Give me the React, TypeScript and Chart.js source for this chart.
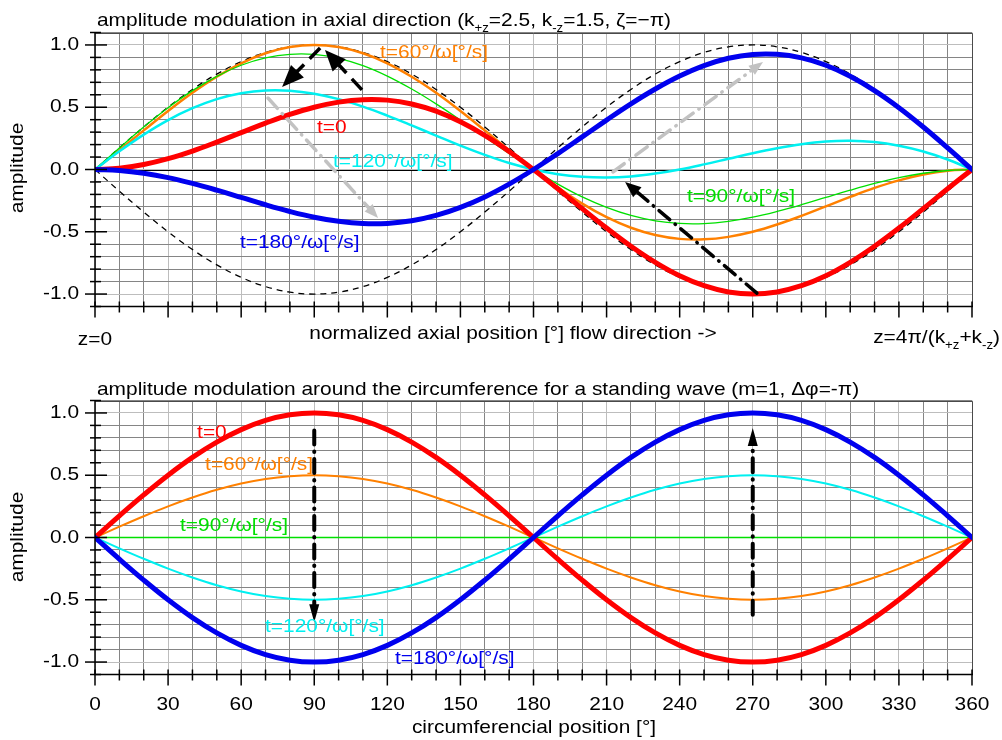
import React, { useEffect, useRef } from "react";
import { Chart, registerables } from "chart.js";

Chart.register(...registerables);

const FONT_FAMILY = '"Liberation Sans", Arial, Helvetica, sans-serif';
const TEXT_STRETCH = 1.1;
const FONT_SIZE = 19;
const SUB_SIZE = 12;

// abscissa samples in degrees
const positions = [
  0, 10, 20, 30, 40, 50, 60, 70, 80, 90, 100, 110, 120, 130, 140, 150, 160, 170, 180,
  190, 200, 210, 220, 230, 240, 250, 260, 270, 280, 290, 300, 310, 320, 330, 340, 350, 360,
];

// ---- axial modulation (upper panel) ----
const axialEnvelopeUpper = [
  0, 0.174, 0.342, 0.5, 0.643, 0.766, 0.866, 0.94, 0.985, 1, 0.985, 0.94, 0.866, 0.766, 0.643, 0.5, 0.342, 0.174, 0,
  -0.174, -0.342, -0.5, -0.643, -0.766, -0.866, -0.94, -0.985, -1, -0.985, -0.94, -0.866, -0.766, -0.643, -0.5, -0.342, -0.174, 0,
];
const axialEnvelopeLower = [
  0, -0.174, -0.342, -0.5, -0.643, -0.766, -0.866, -0.94, -0.985, -1, -0.985, -0.94, -0.866, -0.766, -0.643, -0.5, -0.342, -0.174, 0,
  0.174, 0.342, 0.5, 0.643, 0.766, 0.866, 0.94, 0.985, 1, 0.985, 0.94, 0.866, 0.766, 0.643, 0.5, 0.342, 0.174, 0,
];
const axialT0 = [
  0, 0.01, 0.04, 0.087, 0.148, 0.22, 0.296, 0.372, 0.442, 0.5, 0.541, 0.561, 0.557, 0.526, 0.468, 0.383, 0.274, 0.145, 0,
  -0.155, -0.314, -0.47, -0.616, -0.745, -0.853, -0.933, -0.983, -1, -0.983, -0.933, -0.853, -0.745, -0.616, -0.47, -0.314, -0.155, 0,
];
const axialT60 = [
  0, 0.155, 0.314, 0.47, 0.616, 0.745, 0.853, 0.933, 0.983, 1, 0.983, 0.933, 0.853, 0.745, 0.616, 0.47, 0.314, 0.155, 0,
  -0.145, -0.274, -0.383, -0.468, -0.526, -0.557, -0.561, -0.541, -0.5, -0.442, -0.372, -0.296, -0.22, -0.148, -0.087, -0.04, -0.01, 0,
];
const axialT90 = [
  0, 0.173, 0.341, 0.496, 0.633, 0.748, 0.837, 0.896, 0.925, 0.924, 0.893, 0.834, 0.75, 0.646, 0.527, 0.397, 0.262, 0.128, 0,
  -0.117, -0.22, -0.304, -0.369, -0.412, -0.433, -0.434, -0.416, -0.383, -0.337, -0.283, -0.224, -0.166, -0.112, -0.065, -0.03, -0.008, 0,
];
const axialT120 = [
  0, 0.146, 0.28, 0.397, 0.492, 0.565, 0.612, 0.635, 0.633, 0.609, 0.565, 0.505, 0.433, 0.354, 0.272, 0.191, 0.117, 0.052, 0,
  -0.038, -0.059, -0.065, -0.056, -0.033, 0, 0.041, 0.086, 0.131, 0.171, 0.203, 0.224, 0.23, 0.22, 0.191, 0.145, 0.08, 0,
];
const axialT180 = [
  0, -0.008, -0.03, -0.065, -0.112, -0.166, -0.224, -0.283, -0.337, -0.383, -0.416, -0.434, -0.433, -0.412, -0.369, -0.304, -0.22, -0.117, 0,
  0.128, 0.262, 0.397, 0.527, 0.646, 0.75, 0.834, 0.893, 0.924, 0.925, 0.896, 0.837, 0.748, 0.633, 0.496, 0.341, 0.173, 0,
];

// ---- circumferential standing wave (lower panel) ----
const circT0 = [
  0, 0.174, 0.342, 0.5, 0.643, 0.766, 0.866, 0.94, 0.985, 1, 0.985, 0.94, 0.866, 0.766, 0.643, 0.5, 0.342, 0.174, 0,
  -0.174, -0.342, -0.5, -0.643, -0.766, -0.866, -0.94, -0.985, -1, -0.985, -0.94, -0.866, -0.766, -0.643, -0.5, -0.342, -0.174, 0,
];
const circT60 = [
  0, 0.087, 0.171, 0.25, 0.321, 0.383, 0.433, 0.47, 0.492, 0.5, 0.492, 0.47, 0.433, 0.383, 0.321, 0.25, 0.171, 0.087, 0,
  -0.087, -0.171, -0.25, -0.321, -0.383, -0.433, -0.47, -0.492, -0.5, -0.492, -0.47, -0.433, -0.383, -0.321, -0.25, -0.171, -0.087, 0,
];
const circT90 = [
  0, 0, 0, 0, 0, 0, 0, 0, 0, 0, 0, 0, 0, 0, 0, 0, 0, 0, 0,
  0, 0, 0, 0, 0, 0, 0, 0, 0, 0, 0, 0, 0, 0, 0, 0, 0, 0,
];
const circT120 = [
  0, -0.087, -0.171, -0.25, -0.321, -0.383, -0.433, -0.47, -0.492, -0.5, -0.492, -0.47, -0.433, -0.383, -0.321, -0.25, -0.171, -0.087, 0,
  0.087, 0.171, 0.25, 0.321, 0.383, 0.433, 0.47, 0.492, 0.5, 0.492, 0.47, 0.433, 0.383, 0.321, 0.25, 0.171, 0.087, 0,
];
const circT180 = [
  0, -0.174, -0.342, -0.5, -0.643, -0.766, -0.866, -0.94, -0.985, -1, -0.985, -0.94, -0.866, -0.766, -0.643, -0.5, -0.342, -0.174, 0,
  0.174, 0.342, 0.5, 0.643, 0.766, 0.866, 0.94, 0.985, 1, 0.985, 0.94, 0.866, 0.766, 0.643, 0.5, 0.342, 0.174, 0,
];

// tick labels
const yTickValues = [-1, -0.5, 0, 0.5, 1];
const yTickLabels = ["-1.0", "-0.5", "0.0", "0.5", "1.0"];
const circTickValues = [0, 30, 60, 90, 120, 150, 180, 210, 240, 270, 300, 330, 360];
const circTickLabels = ["0", "30", "60", "90", "120", "150", "180", "210", "240", "270", "300", "330", "360"];

const RED = "#ff0000";
const BLUE = "#0000ee";
const ORANGE = "#ff8000";
const CYAN = "#00f0f0";
const GREEN = "#00e000";
const ARROW_GREY = "#c2c2c2";

type Seg = { text: string; sub?: boolean };
type Series = { values: number[]; color: string; width: number; dash?: number[]; order: number };
type Arrow = {
  from: [number, number];
  to: [number, number];
  color: string;
  width: number;
  dash: number[];
  cap: CanvasLineCap;
  headLen: number;
  headHalf: number;
};
type Note = { text: string; at: [number, number]; color: string };
type AxisText = { segs: Seg[]; x: number; baseline: number; align: "left" | "center" | "right" };

interface Panel {
  canvasTop: number;
  canvasHeight: number;
  plotTop: number;
  plotBottom: number;
  zeroLine: boolean;
  series: Series[];
  title: Seg[];
  titleBaseline: number;
  yLabelCenter: number;
  axisTexts: AxisText[];
  xTickValues: number[];
  xTickLabels: string[];
  xTickBaseline: number;
  arrows: Arrow[];
  notes: Note[];
}

const DASH_DOT = [14, 7, 0.5, 7];

const axialPanel: Panel = {
  canvasTop: 0,
  canvasHeight: 370,
  plotTop: 32.5,
  plotBottom: 306.5,
  zeroLine: true,
  series: [
    { values: axialT180, color: BLUE, width: 5, order: 1 },
    { values: axialT0, color: RED, width: 5, order: 2 },
    { values: axialT120, color: CYAN, width: 2.5, order: 3 },
    { values: axialT90, color: GREEN, width: 1.3, order: 4 },
    { values: axialT60, color: ORANGE, width: 2.5, order: 5 },
    { values: axialEnvelopeUpper, color: "#000000", width: 1.3, dash: [6, 5], order: 6 },
    { values: axialEnvelopeLower, color: "#000000", width: 1.3, dash: [6, 5], order: 7 },
  ],
  title: [
    { text: "amplitude modulation in axial direction (k" },
    { text: "+z", sub: true },
    { text: "=2.5, k" },
    { text: "-z", sub: true },
    { text: "=1.5, ζ=−π)" },
  ],
  titleBaseline: 26,
  yLabelCenter: 168,
  axisTexts: [
    { segs: [{ text: "z=0" }], x: 95, baseline: 345, align: "center" },
    { segs: [{ text: "normalized axial position [°] flow direction ->" }], x: 513, baseline: 339, align: "center" },
    {
      segs: [
        { text: "z=4π/(k" },
        { text: "+z", sub: true },
        { text: "+k" },
        { text: "-z", sub: true },
        { text: ")" },
      ],
      x: 1000,
      baseline: 343,
      align: "right",
    },
  ],
  xTickValues: [],
  xTickLabels: [],
  xTickBaseline: 0,
  arrows: [
    { from: [92.4, 0.976], to: [76.8, 0.663], color: "#000000", width: 3.5, dash: [15, 8], cap: "butt", headLen: 22, headHalf: 9 },
    { from: [109.6, 0.639], to: [94.4, 0.96], color: "#000000", width: 3.5, dash: [15, 8], cap: "butt", headLen: 21, headHalf: 9 },
    { from: [71, 0.574], to: [116.2, -0.39], color: ARROW_GREY, width: 3.5, dash: DASH_DOT, cap: "round", headLen: 14, headHalf: 5.5 },
    { from: [212.6, -0.02], to: [274.2, 0.863], color: ARROW_GREY, width: 3.5, dash: DASH_DOT, cap: "round", headLen: 14, headHalf: 5.5 },
    { from: [271.7, -0.992], to: [217.6, -0.1], color: "#000000", width: 3.5, dash: DASH_DOT, cap: "round", headLen: 16, headHalf: 6.5 },
  ],
  notes: [
    { text: "t=60°/ω[°/s]", at: [117, 0.936], color: ORANGE },
    { text: "t=0", at: [91.1, 0.333], color: RED },
    { text: "t=120°/ω[°/s]", at: [97.7, 0.06], color: CYAN },
    { text: "t=90°/ω[°/s]", at: [243, -0.221], color: GREEN },
    { text: "t=180°/ω[°/s]", at: [59.5, -0.59], color: BLUE },
  ],
};

const circPanel: Panel = {
  canvasTop: 370,
  canvasHeight: 370,
  plotTop: 30.5,
  plotBottom: 304.5,
  zeroLine: false,
  series: [
    { values: circT180, color: BLUE, width: 5, order: 1 },
    { values: circT0, color: RED, width: 5, order: 2 },
    { values: circT120, color: CYAN, width: 2, order: 3 },
    { values: circT60, color: ORANGE, width: 2, order: 4 },
    { values: circT90, color: GREEN, width: 1.3, order: 5 },
  ],
  title: [{ text: "amplitude modulation around the circumference for a standing wave (m=1, Δφ=-π)" }],
  titleBaseline: 25,
  yLabelCenter: 167,
  axisTexts: [{ segs: [{ text: "circumferencial position [°]" }], x: 534, baseline: 363, align: "center" }],
  xTickValues: circTickValues,
  xTickLabels: circTickLabels,
  xTickBaseline: 340,
  arrows: [
    { from: [90, 0.86], to: [90, -0.68], color: "#000000", width: 4, dash: DASH_DOT, cap: "round", headLen: 18, headHalf: 5 },
    { from: [270, -0.62], to: [270, 0.88], color: "#000000", width: 4, dash: DASH_DOT, cap: "round", headLen: 18, headHalf: 5 },
  ],
  notes: [
    { text: "t=0", at: [41.9, 0.839], color: RED },
    { text: "t=60°/ω[°/s]", at: [45.2, 0.582], color: ORANGE },
    { text: "t=90°/ω[°/s]", at: [34.9, 0.092], color: GREEN },
    { text: "t=120°/ω[°/s]", at: [69.8, -0.719], color: CYAN },
    { text: "t=180°/ω[°/s]", at: [123.1, -0.976], color: BLUE },
  ],
};

function setFont(ctx: CanvasRenderingContext2D, size: number) {
  ctx.font = `${size}px ${FONT_FAMILY}`;
}

function segsWidth(ctx: CanvasRenderingContext2D, segs: Seg[]) {
  let w = 0;
  for (const s of segs) {
    setFont(ctx, s.sub ? SUB_SIZE : FONT_SIZE);
    w += ctx.measureText(s.text).width * TEXT_STRETCH;
  }
  return w;
}

function drawSegs(
  ctx: CanvasRenderingContext2D,
  segs: Seg[],
  x: number,
  baseline: number,
  align: "left" | "center" | "right",
  color: string,
  vAlign: CanvasTextBaseline = "alphabetic"
) {
  const total = segsWidth(ctx, segs);
  let cx = align === "left" ? x : align === "center" ? x - total / 2 : x - total;
  ctx.save();
  ctx.fillStyle = color;
  ctx.textAlign = "left";
  ctx.textBaseline = vAlign;
  for (const s of segs) {
    setFont(ctx, s.sub ? SUB_SIZE : FONT_SIZE);
    const w = ctx.measureText(s.text).width * TEXT_STRETCH;
    ctx.save();
    ctx.translate(cx, baseline + (s.sub ? 6 : 0));
    ctx.scale(TEXT_STRETCH, 1);
    ctx.fillText(s.text, 0, 0);
    ctx.restore();
    cx += w;
  }
  ctx.restore();
}

function isMultiple(v: number, step: number) {
  const r = v / step;
  return Math.abs(r - Math.round(r)) < 1e-6;
}

function makeDecor(panel: Panel) {
  return {
    id: "panelDecor",
    beforeDatasetsDraw(chart: Chart) {
      if (!panel.zeroLine) return;
      const { ctx, chartArea: a } = chart;
      const y0 = chart.scales.y.getPixelForValue(0);
      ctx.save();
      ctx.strokeStyle = "#000000";
      ctx.lineWidth = 1;
      ctx.beginPath();
      ctx.moveTo(a.left, Math.round(y0) + 0.5);
      ctx.lineTo(a.right, Math.round(y0) + 0.5);
      ctx.stroke();
      ctx.restore();
    },
    afterDatasetsDraw(chart: Chart) {
      const { ctx } = chart;
      const xs = chart.scales.x;
      const ys = chart.scales.y;

      // arrows
      for (const ar of panel.arrows) {
        const p0 = { x: xs.getPixelForValue(ar.from[0]), y: ys.getPixelForValue(ar.from[1]) };
        const p1 = { x: xs.getPixelForValue(ar.to[0]), y: ys.getPixelForValue(ar.to[1]) };
        const ang = Math.atan2(p1.y - p0.y, p1.x - p0.x);
        const stopX = p1.x - Math.cos(ang) * ar.headLen * 0.85;
        const stopY = p1.y - Math.sin(ang) * ar.headLen * 0.85;
        ctx.save();
        ctx.strokeStyle = ar.color;
        ctx.fillStyle = ar.color;
        ctx.lineWidth = ar.width;
        ctx.lineCap = ar.cap;
        ctx.setLineDash(ar.dash);
        ctx.beginPath();
        ctx.moveTo(p0.x, p0.y);
        ctx.lineTo(stopX, stopY);
        ctx.stroke();
        ctx.setLineDash([]);
        ctx.translate(p1.x, p1.y);
        ctx.rotate(ang);
        ctx.beginPath();
        ctx.moveTo(0, 0);
        ctx.lineTo(-ar.headLen, ar.headHalf);
        ctx.lineTo(-ar.headLen, -ar.headHalf);
        ctx.closePath();
        ctx.fill();
        ctx.restore();
      }

      // curve labels
      for (const n of panel.notes) {
        const px = xs.getPixelForValue(n.at[0]);
        const py = ys.getPixelForValue(n.at[1]);
        drawSegs(ctx, [{ text: n.text }], px, py, "left", n.color, "middle");
      }
    },
    afterDraw(chart: Chart) {
      const { ctx, chartArea: a } = chart;
      const xs = chart.scales.x;
      const ys = chart.scales.y;

      ctx.save();
      // frame (top / right)
      ctx.strokeStyle = "#4a4a4a";
      ctx.lineWidth = 1;
      ctx.beginPath();
      ctx.moveTo(a.left, Math.round(a.top) + 0.5);
      ctx.lineTo(a.right + 0.5, Math.round(a.top) + 0.5);
      ctx.lineTo(a.right + 0.5, a.bottom);
      ctx.stroke();

      // axes
      ctx.strokeStyle = "#000000";
      ctx.lineWidth = 1.5;
      ctx.beginPath();
      ctx.moveTo(a.left, a.top);
      ctx.lineTo(a.left, a.bottom);
      ctx.lineTo(a.right + 1, a.bottom);
      ctx.stroke();

      // y ticks from the scale's own tick list
      for (const t of ys.ticks) {
        const py = ys.getPixelForValue(t.value);
        const major = isMultiple(t.value, 0.5);
        ctx.beginPath();
        ctx.moveTo(a.left - (major ? 10 : 5), py);
        ctx.lineTo(a.left + (major ? 12 : 6), py);
        ctx.stroke();
      }
      // x ticks
      for (const t of xs.ticks) {
        const px = xs.getPixelForValue(t.value);
        const major = isMultiple(t.value, 30);
        ctx.beginPath();
        ctx.moveTo(px, a.bottom - 5);
        ctx.lineTo(px, a.bottom + (major ? 11 : 6));
        ctx.stroke();
      }
      ctx.restore();

      // y tick labels
      yTickValues.forEach((v, i) => {
        drawSegs(ctx, [{ text: yTickLabels[i] }], 79, ys.getPixelForValue(v), "right", "#000000", "middle");
      });
      // x tick labels
      panel.xTickValues.forEach((v, i) => {
        drawSegs(ctx, [{ text: panel.xTickLabels[i] }], xs.getPixelForValue(v), panel.xTickBaseline, "center", "#000000");
      });

      // title
      drawSegs(ctx, panel.title, 97, panel.titleBaseline, "left", "#000000");

      // axis texts
      for (const t of panel.axisTexts) drawSegs(ctx, t.segs, t.x, t.baseline, t.align, "#000000");

      // y axis title
      ctx.save();
      ctx.translate(18, panel.yLabelCenter);
      ctx.rotate(-Math.PI / 2);
      ctx.scale(TEXT_STRETCH, 1);
      setFont(ctx, FONT_SIZE);
      ctx.fillStyle = "#000000";
      ctx.textAlign = "center";
      ctx.textBaseline = "middle";
      ctx.fillText("amplitude", 0, 0);
      ctx.restore();
    },
  };
}

function buildChart(canvas: HTMLCanvasElement, panel: Panel) {
  const xAxisHeight = panel.canvasHeight - panel.plotBottom;
  return new Chart(canvas, {
    type: "line",
    data: {
      datasets: panel.series.map((s) => ({
        data: positions.map((x, i) => ({ x, y: s.values[i] })),
        borderColor: s.color,
        borderWidth: s.width,
        borderDash: s.dash || [],
        borderCapStyle: s.dash ? "butt" : "round",
        borderJoinStyle: "round",
        pointRadius: 0,
        tension: 0.4,
        fill: false,
        order: s.order,
      })),
    },
    options: {
      responsive: false,
      maintainAspectRatio: false,
      animation: false,
      events: [],
      layout: { padding: { top: panel.plotTop, right: 30, left: 0, bottom: 0 } },
      plugins: { legend: { display: false }, tooltip: { enabled: false }, title: { display: false } },
      scales: {
        x: {
          type: "linear",
          min: 0,
          max: 360,
          afterFit: (s: any) => {
            s.height = xAxisHeight;
          },
          ticks: { display: false, stepSize: 10 },
          grid: {
            drawTicks: false,
            lineWidth: 1,
            color: (c: any) => (isMultiple(c.tick ? c.tick.value : 0, 30) ? "#bdbdbd" : "#858585"),
          },
          border: { display: false },
        },
        y: {
          type: "linear",
          min: -1.1,
          max: 1.1,
          afterFit: (s: any) => {
            s.width = 95;
          },
          ticks: { display: false, stepSize: 0.1 },
          grid: {
            drawTicks: false,
            lineWidth: 1,
            color: (c: any) => (isMultiple(c.tick ? c.tick.value : 0, 0.5) ? "#bdbdbd" : "#858585"),
          },
          border: { display: false },
        },
      },
    } as any,
    plugins: [makeDecor(panel)],
  });
}

function PanelCanvas({ panel }: { panel: Panel }) {
  const ref = useRef<HTMLCanvasElement | null>(null);
  useEffect(() => {
    if (!ref.current) return;
    const chart = buildChart(ref.current, panel);
    return () => chart.destroy();
  }, [panel]);
  return (
    <canvas
      ref={ref}
      width={1002}
      height={panel.canvasHeight}
      style={{ position: "absolute", left: 0, top: panel.canvasTop, width: 1002, height: panel.canvasHeight }}
    />
  );
}

export default function App() {
  return (
    <div style={{ position: "fixed", left: 0, top: 0, width: 1002, height: 740, background: "#ffffff", overflow: "hidden" }}>
      <PanelCanvas panel={axialPanel} />
      <PanelCanvas panel={circPanel} />
    </div>
  );
}
